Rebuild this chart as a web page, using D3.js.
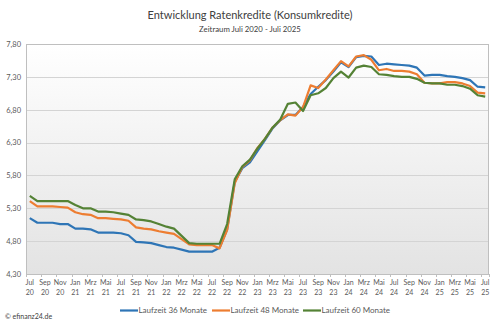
<!DOCTYPE html>
<html>
<head>
<meta charset="utf-8">
<script src="https://cdn.jsdelivr.net/npm/d3@7"></script>
<style>
  html, body { margin: 0; padding: 0; background: #ffffff; }
  svg { display: block; font-family: Lato, "Open Sans", sans-serif; }
</style>
</head>
<body>
<svg id="chart" width="500" height="325"></svg>
<script>
// Monthly categories Jul 2020 - Jul 2025
const months = ["Jan","Feb","Mrz","Apr","Mai","Jun","Jul","Aug","Sep","Okt","Nov","Dez"];
const categories = [];
for (let k = 0; k < 61; k++) {
  const m = (6 + k) % 12;
  const y = 20 + Math.floor((6 + k) / 12);
  categories.push({ month: months[m], year: String(y) });
}

// Effective interest rates (%) per term
const laufzeit36 = [5.15,5.08,5.08,5.08,5.06,5.06,4.99,4.99,4.98,4.93,4.93,4.93,4.92,4.89,4.79,4.78,4.77,4.74,4.71,4.70,
  4.67,4.64,4.64,4.64,4.64,4.70,4.98,5.70,5.91,6.00,6.17,6.34,6.52,6.64,6.72,6.72,6.84,7.04,7.15,7.25,
  7.38,7.52,7.45,7.60,7.62,7.61,7.48,7.50,7.49,7.48,7.47,7.44,7.32,7.33,7.33,7.31,7.30,7.28,7.25,7.15,7.14];
const laufzeit48 = [5.41,5.33,5.33,5.33,5.32,5.31,5.24,5.21,5.20,5.15,5.15,5.14,5.13,5.11,5.01,4.99,4.98,4.95,4.93,4.91,
  4.83,4.75,4.74,4.74,4.74,4.69,4.97,5.68,5.93,6.03,6.22,6.36,6.53,6.64,6.73,6.71,6.84,7.17,7.13,7.26,
  7.40,7.54,7.46,7.61,7.63,7.56,7.40,7.42,7.39,7.39,7.38,7.34,7.21,7.20,7.20,7.22,7.22,7.20,7.16,7.06,7.05];
const laufzeit60 = [5.49,5.41,5.41,5.41,5.41,5.41,5.35,5.30,5.30,5.25,5.25,5.24,5.22,5.20,5.13,5.12,5.10,5.06,5.02,4.99,
  4.88,4.77,4.76,4.76,4.76,4.76,5.06,5.74,5.94,6.04,6.21,6.36,6.53,6.65,6.89,6.91,6.78,7.02,7.05,7.13,
  7.28,7.38,7.29,7.44,7.47,7.45,7.34,7.33,7.31,7.30,7.30,7.27,7.21,7.20,7.20,7.18,7.18,7.16,7.12,7.02,7.00];

const yTicks = [4.3, 4.8, 5.3, 5.8, 6.3, 6.8, 7.3, 7.8];

const series = [
  { name: "Laufzeit 36 Monate", values: laufzeit36, color: "#2e75b6" },
  { name: "Laufzeit 48 Monate", values: laufzeit48, color: "#ed7d31" },
  { name: "Laufzeit 60 Monate", values: laufzeit60, color: "#548235" }
];

const svg = d3.select("#chart");
const plot = { left: 26, right: 489, top: 44, bottom: 274 };

const x = d3.scaleBand()
  .domain(d3.range(categories.length))
  .range([plot.left, plot.right])
  .padding(0);
const y = d3.scaleLinear().domain([4.3, 7.8]).range([plot.bottom, plot.top]);
const cx = i => x(i) + x.bandwidth() / 2;

// Title
svg.append("text").attr("x", 250).attr("y", 19).attr("text-anchor", "middle")
  .attr("font-size", 11).attr("fill", "#404040")
  .text("Entwicklung Ratenkredite (Konsumkredite)");
svg.append("text").attr("x", 250).attr("y", 32).attr("text-anchor", "middle")
  .attr("font-size", 7.8).attr("fill", "#404040")
  .text("Zeitraum Juli 2020 - Juli 2025");

// Plot area background
const defs = svg.append("defs");
const grad = defs.append("linearGradient").attr("id", "plotBg")
  .attr("x1", 0).attr("y1", 0).attr("x2", 0).attr("y2", 1);
grad.append("stop").attr("offset", "0%").attr("stop-color", "#ffffff");
grad.append("stop").attr("offset", "100%").attr("stop-color", "#e3e3e3");

svg.append("rect")
  .attr("x", plot.left).attr("y", plot.top)
  .attr("width", plot.right - plot.left).attr("height", plot.bottom - plot.top)
  .attr("fill", "url(#plotBg)");

// Horizontal gridlines
svg.append("g").selectAll("line").data(yTicks.slice(1, -1)).join("line")
  .attr("x1", plot.left).attr("x2", plot.right)
  .attr("y1", d => Math.round(y(d)) + 0.5).attr("y2", d => Math.round(y(d)) + 0.5)
  .attr("stroke", "#d4d4d4").attr("stroke-width", 1);

// Plot area border
svg.append("rect")
  .attr("x", plot.left + 0.5).attr("y", plot.top + 0.5)
  .attr("width", plot.right - plot.left - 1).attr("height", plot.bottom - plot.top)
  .attr("fill", "none").attr("stroke", "#bfbfbf").attr("stroke-width", 1);

// Y axis labels
const yAxis = d3.axisLeft(y).tickValues(yTicks).tickSize(0).tickPadding(5)
  .tickFormat(d => d3.format(".2f")(d).replace(".", ","));
const gy = svg.append("g").attr("transform", `translate(${plot.left},0)`).call(yAxis);
gy.select(".domain").remove();
gy.selectAll("text").attr("font-size", 7.5).attr("fill", "#595959")
  .attr("font-family", "Lato, 'Open Sans', sans-serif");

// X axis: tick marks between categories, labels on every second month
const evenIdx = d3.range(0, categories.length, 2);
const gx = svg.append("g");
gx.selectAll("line").data(evenIdx.concat([categories.length])).join("line")
  .attr("x1", i => Math.round(i < categories.length ? x(i) : plot.right) + 0.5)
  .attr("x2", i => Math.round(i < categories.length ? x(i) : plot.right) + 0.5)
  .attr("y1", plot.bottom).attr("y2", plot.bottom + 3)
  .attr("stroke", "#bfbfbf");
const lbl = gx.selectAll("text").data(evenIdx).join("text")
  .attr("x", i => cx(i)).attr("y", plot.bottom + 11)
  .attr("text-anchor", "middle").attr("font-size", 7).attr("fill", "#595959");
lbl.append("tspan").attr("x", i => cx(i)).text(i => categories[i].month);
lbl.append("tspan").attr("x", i => cx(i)).attr("dy", 10).text(i => categories[i].year);

// Series lines
const line = d3.line().x((d, i) => cx(i)).y(d => y(d)).curve(d3.curveLinear);
svg.append("g").selectAll("path").data(series).join("path")
  .attr("d", s => line(s.values))
  .attr("fill", "none")
  .attr("stroke", s => s.color)
  .attr("stroke-width", 2.2)
  .attr("stroke-linejoin", "round");

// Legend
const legendX = [120, 212, 303];
const lg = svg.append("g").selectAll("g").data(series).join("g")
  .attr("transform", (s, i) => `translate(${legendX[i]},310.5)`);
lg.append("line").attr("x1", 0).attr("x2", 18).attr("y1", 0).attr("y2", 0)
  .attr("stroke", s => s.color).attr("stroke-width", 2.2);
lg.append("text").attr("x", 18.5).attr("y", 2.9).attr("font-size", 8)
  .attr("fill", "#595959").text(s => s.name);

// Source note
svg.append("text").attr("x", 5).attr("y", 319).attr("font-size", 7)
  .attr("fill", "#404040").text("© efinanz24.de");
</script>
</body>
</html>
